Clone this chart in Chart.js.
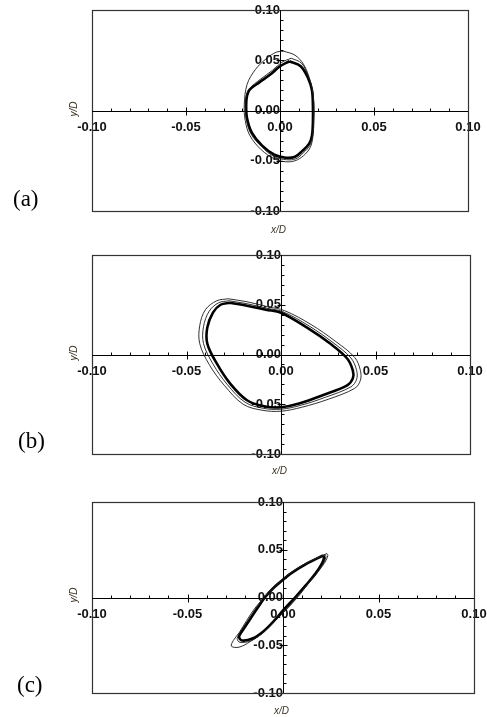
<!DOCTYPE html>
<html>
<head>
<meta charset="utf-8">
<script src="https://cdn.jsdelivr.net/npm/chart.js@4.4.1/dist/chart.umd.min.js"></script>
<style>
  body { margin: 0; background: #fff; }
  .painel { position: absolute; left: 0; }
  .letra { position: absolute; font-family: 'Liberation Serif', 'Times New Roman', serif; font-size: 23px; line-height: 1; color: #000; }
  .eixo { position: absolute; font-family: 'Liberation Sans', Arial, sans-serif; font-style: italic; font-size: 10px; line-height: 1; color: #3a3325; }
  .eixo-y { transform: rotate(-90deg); transform-origin: center; }
</style>
</head>
<body>
<canvas id="chart_a" class="painel" style="top:0px" width="487" height="240"></canvas>
<canvas id="chart_b" class="painel" style="top:245px" width="487" height="230"></canvas>
<canvas id="chart_c" class="painel" style="top:490px" width="487" height="227"></canvas>

<div class="letra" style="left:13px; top:187px">(a)</div>
<div class="letra" style="left:18px; top:429px">(b)</div>
<div class="letra" style="left:17px; top:673px">(c)</div>

<div class="eixo" style="left:271px; top:225px">x/D</div>
<div class="eixo" style="left:272px; top:466px">x/D</div>
<div class="eixo" style="left:274px; top:706px">x/D</div>
<div class="eixo eixo-y" style="left:66px; top:104px">y/D</div>
<div class="eixo eixo-y" style="left:66px; top:348px">y/D</div>
<div class="eixo eixo-y" style="left:66px; top:590px">y/D</div>

<script>
// Órbitas (x/D, y/D) - laço principal grosso e voltas finas ao redor
// (a)
const aMainX = [0.005, 0.011, 0.015, 0.017, 0.0175, 0.0175, 0.017, 0.0155, 0.012, 0.008, 0.003, -0.003, -0.0095, -0.015, -0.0175, -0.018, -0.0175, -0.016, -0.011, -0.005, 0.000, 0.005];
const aMainY = [0.049, 0.044, 0.032, 0.020, 0.005, -0.012, -0.025, -0.033, -0.040, -0.046, -0.047, -0.044, -0.035, -0.022, -0.008, 0.005, 0.015, 0.021, 0.028, 0.036, 0.044, 0.049];
const aMidX = [0.006, 0.0115, 0.015, 0.0172, 0.018, 0.0178, 0.0172, 0.0158, 0.0125, 0.0085, 0.0035, -0.003, -0.0098, -0.0155, -0.018, -0.0185, -0.0178, -0.0162, -0.0105, -0.004, 0.001, 0.006];
const aMidY = [0.052, 0.047, 0.034, 0.021, 0.005, -0.012, -0.026, -0.035, -0.042, -0.048, -0.049, -0.046, -0.036, -0.023, -0.008, 0.006, 0.016, 0.022, 0.031, 0.040, 0.048, 0.052];
const aOuterX = [0.002, 0.008, 0.0125, 0.016, 0.0178, 0.018, 0.0175, 0.016, 0.0125, 0.008, 0.003, -0.003, -0.010, -0.016, -0.0185, -0.019, -0.0175, -0.013, -0.007, -0.002, 0.002];
const aOuterY = [0.059, 0.055, 0.046, 0.030, 0.012, -0.008, -0.026, -0.037, -0.045, -0.050, -0.051, -0.048, -0.039, -0.025, -0.010, 0.006, 0.026, 0.041, 0.052, 0.058, 0.059];

// (b)
const bMainX = [-0.027, -0.018, -0.008, 0.000, 0.0138, 0.026, 0.035, 0.038, 0.038, 0.035, 0.022, 0.010, 0.000, -0.009, -0.018, -0.027, -0.034, -0.039, -0.039, -0.036, -0.032, -0.027];
const bMainY = [0.052, 0.049, 0.045, 0.042, 0.027, 0.011, -0.004, -0.016, -0.024, -0.031, -0.041, -0.049, -0.053, -0.052, -0.046, -0.029, -0.009, 0.011, 0.027, 0.042, 0.050, 0.052];
const bMidX = [-0.0275, -0.018, -0.0075, 0.001, 0.015, 0.0275, 0.037, 0.040, 0.040, 0.037, 0.0235, 0.0105, 0.000, -0.0095, -0.019, -0.0285, -0.036, -0.041, -0.041, -0.038, -0.033, -0.0275];
const bMidY = [0.054, 0.051, 0.0465, 0.043, 0.0285, 0.012, -0.0035, -0.016, -0.025, -0.0325, -0.043, -0.051, -0.055, -0.054, -0.048, -0.030, -0.0095, 0.011, 0.028, 0.0435, 0.052, 0.054];
const bOuterX = [-0.028, -0.018, -0.007, 0.002, 0.016, 0.029, 0.039, 0.042, 0.042, 0.039, 0.025, 0.011, 0.000, -0.010, -0.020, -0.030, -0.038, -0.043, -0.043, -0.040, -0.034, -0.028];
const bOuterY = [0.056, 0.053, 0.048, 0.044, 0.030, 0.013, -0.003, -0.016, -0.026, -0.034, -0.045, -0.053, -0.057, -0.056, -0.050, -0.031, -0.010, 0.011, 0.029, 0.045, 0.054, 0.056];

// (c)
const cMainX = [0.021, 0.012, 0.004, 0.000, -0.005, -0.0095, -0.013, -0.017, -0.021, -0.023, -0.0215, -0.016, -0.010, -0.004, 0.000, 0.0063, 0.012, 0.017, 0.0205, 0.0215, 0.021];
const cMainY = [0.044, 0.035, 0.025, 0.0185, 0.010, 0.000, -0.010, -0.022, -0.034, -0.041, -0.045, -0.043, -0.035, -0.023, -0.0136, 0.000, 0.013, 0.025, 0.036, 0.042, 0.044];
const cMidX = [0.022, 0.0125, 0.004, -0.0045, -0.0095, -0.014, -0.018, -0.022, -0.024, -0.0225, -0.0165, -0.010, -0.0035, 0.0015, 0.007, 0.0125, 0.0175, 0.0215, 0.0225, 0.022];
const cMidY = [0.045, 0.036, 0.0255, 0.0105, 0.000, -0.011, -0.023, -0.035, -0.043, -0.047, -0.045, -0.036, -0.023, -0.013, 0.000, 0.0135, 0.0255, 0.037, 0.043, 0.045];
const cOuterX = [0.023, 0.013, 0.004, -0.005, -0.010, -0.015, -0.019, -0.023, -0.026, -0.027, -0.023, -0.017, -0.010, -0.003, 0.002, 0.008, 0.013, 0.018, 0.022, 0.0235, 0.023];
const cOuterY = [0.046, 0.037, 0.026, 0.011, 0.000, -0.012, -0.024, -0.037, -0.045, -0.051, -0.052, -0.046, -0.036, -0.022, -0.012, 0.001, 0.014, 0.026, 0.037, 0.044, 0.046];

// Marcas dos eixos centrais
const tickLabels = [-0.10, -0.05, 0.00, 0.05, 0.10];
const majorTicks = [-0.05, 0.05];
const minorTicks = [-0.09, -0.08, -0.07, -0.06, -0.04, -0.03, -0.02, -0.01, 0.01, 0.02, 0.03, 0.04, 0.06, 0.07, 0.08, 0.09];

Chart.defaults.font.family = "'Liberation Sans', Arial, sans-serif";

function pontos(xs, ys) {
  return xs.map((x, i) => ({ x: x, y: ys[i] }));
}

function serie(xs, ys, grossa) {
  return {
    data: pontos(xs, ys),
    showLine: true,
    borderColor: grossa ? '#000' : '#1a1a1a',
    borderWidth: grossa ? 2.6 : 0.9,
    pointRadius: 0,
    tension: 0.35
  };
}

// Caixa, eixos cruzando no zero e os tracinhos
const eixosCentro = {
  id: 'eixosCentro',
  beforeDatasetsDraw(chart) {
    const { ctx, chartArea: a, scales: { x, y } } = chart;
    const x0 = Math.round(x.getPixelForValue(0)) + 0.5;
    const y0 = Math.round(y.getPixelForValue(0)) + 0.5;
    ctx.save();
    ctx.strokeStyle = '#333';
    ctx.lineWidth = 1.2;
    ctx.strokeRect(Math.round(a.left) + 0.5, Math.round(a.top) + 0.5, Math.round(a.width), Math.round(a.height));
    ctx.strokeStyle = '#000';
    ctx.lineWidth = 1;
    ctx.beginPath();
    ctx.moveTo(a.left, y0); ctx.lineTo(a.right, y0);
    ctx.moveTo(x0, a.top); ctx.lineTo(x0, a.bottom);
    minorTicks.forEach(v => {
      const px = Math.round(x.getPixelForValue(v)) + 0.5;
      ctx.moveTo(px, y0 - 3); ctx.lineTo(px, y0);
      const py = Math.round(y.getPixelForValue(v)) + 0.5;
      ctx.moveTo(x0, py); ctx.lineTo(x0 + 3, py);
    });
    majorTicks.forEach(v => {
      const px = Math.round(x.getPixelForValue(v)) + 0.5;
      ctx.moveTo(px, y0 - 4); ctx.lineTo(px, y0 + 4);
      const py = Math.round(y.getPixelForValue(v)) + 0.5;
      ctx.moveTo(x0 - 4, py); ctx.lineTo(x0 + 4, py);
    });
    ctx.stroke();
    ctx.restore();
  }
};

function rotulo(v) {
  return Math.abs(v) < 1e-9 ? '0.00' : v.toFixed(2);
}

// os rótulos nas pontas não devem empurrar a área do gráfico
function semFolga(s) {
  s.paddingTop = 0;
  s.paddingBottom = 0;
  s.paddingLeft = 0;
  s.paddingRight = 0;
}

function opcoes(padding) {
  const fonte = { size: 13, weight: 'bold' };
  return {
    responsive: false,
    devicePixelRatio: 1,
    animation: false,
    layout: { padding: padding },
    scales: {
      x: {
        type: 'linear', min: -0.1, max: 0.1,
        position: { y: 0 },
        afterBuildTicks: s => { s.ticks = tickLabels.map(v => ({ value: v })); },
        afterFit: semFolga,
        ticks: { callback: rotulo, color: '#111', font: fonte, padding: 9, maxRotation: 0, autoSkip: false },
        grid: { display: false, drawTicks: false },
        border: { display: false }
      },
      y: {
        type: 'linear', min: -0.1, max: 0.1,
        position: { x: 0 },
        afterBuildTicks: s => { s.ticks = tickLabels.map(v => ({ value: v })); },
        afterFit: semFolga,
        ticks: { callback: rotulo, color: '#111', font: fonte, padding: 12, autoSkip: false },
        grid: { display: false, drawTicks: false },
        border: { display: false }
      }
    },
    plugins: {
      legend: { display: false },
      tooltip: { enabled: false }
    }
  };
}

new Chart(document.getElementById('chart_a'), {
  type: 'scatter',
  data: { datasets: [serie(aOuterX, aOuterY, false), serie(aMidX, aMidY, false), serie(aMainX, aMainY, true)] },
  options: opcoes({ left: 92, right: 19, top: 10, bottom: 29 }),
  plugins: [eixosCentro]
});

new Chart(document.getElementById('chart_b'), {
  type: 'scatter',
  data: { datasets: [serie(bOuterX, bOuterY, false), serie(bMidX, bMidY, false), serie(bMainX, bMainY, true)] },
  options: opcoes({ left: 92, right: 17, top: 10, bottom: 21 }),
  plugins: [eixosCentro]
});

new Chart(document.getElementById('chart_c'), {
  type: 'scatter',
  data: { datasets: [serie(cOuterX, cOuterY, false), serie(cMidX, cMidY, false), serie(cMainX, cMainY, true)] },
  options: opcoes({ left: 92, right: 13, top: 12, bottom: 24 }),
  plugins: [eixosCentro]
});
</script>
</body>
</html>
